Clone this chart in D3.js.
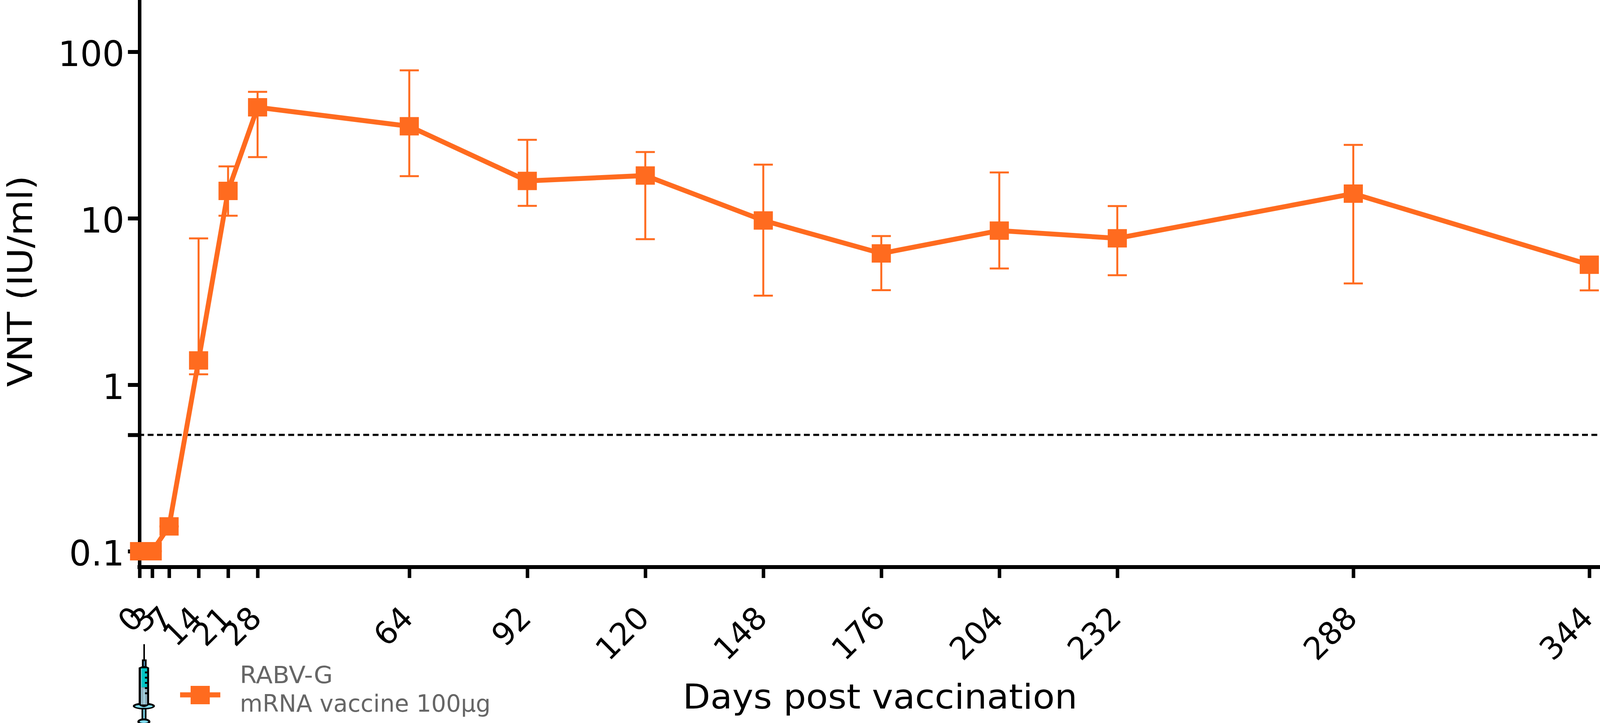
<!doctype html>
<html>
<head>
<meta charset="utf-8">
<script src="https://cdn.jsdelivr.net/npm/d3@7"></script>
<style>
  html, body { margin: 0; padding: 0; background: #fff; }
  svg { display: block; font-family: "DejaVu Sans", sans-serif; }
</style>
</head>
<body>
<svg id="chart" width="4140" height="1850"></svg>
<script>
  var days = [0, 3, 7, 14, 21, 28, 64, 92, 120, 148, 176, 204, 232, 288, 344];
  var vnt = [0.1, 0.1, 0.141, 1.40, 14.6, 46.4, 35.7, 16.76, 18.06, 9.70, 6.15, 8.43, 7.58, 14.06, 5.26];
  var vntUpper = [0.1, 0.1, 0.141, 7.57, 20.5, 57.5, 77.4, 29.6, 25.0, 21.0, 7.82, 18.84, 11.84, 27.6, 5.8];
  var vntLower = [0.1, 0.1, 0.141, 1.155, 10.36, 23.3, 17.9, 11.87, 7.49, 3.43, 3.70, 4.99, 4.55, 4.06, 3.69];

  var xTicks = [0, 3, 7, 14, 21, 28, 64, 92, 120, 148, 176, 204, 232, 288, 344];
  var yTicks = [0.1, 0.5, 1, 10, 100];
  var yTickLabels = { 0.1: '0.1', 0.5: '', 1: '1', 10: '10', 100: '100' };
  var threshold = 0.5;

  var orange = '#ff6b1f';
  var axisY = 1451;

  var svg = d3.select('#chart');

  var x = d3.scaleLinear().domain([0, 344]).range([357.3, 4068.6]);
  var y = d3.scaleLog().domain([0.1, 100]).range([1410.5, 132.5]);

  var points = days.map(function (d, i) {
    return { day: d, value: vnt[i], upper: vntUpper[i], lower: vntLower[i] };
  });

  // y axis
  var yAxis = svg.append('g')
    .attr('transform', 'translate(357.5,0)')
    .call(d3.axisLeft(y)
      .tickValues(yTicks)
      .tickFormat(function (d) { return yTickLabels[d]; })
      .tickSize(30)
      .tickPadding(9));
  yAxis.select('.domain').remove();
  yAxis.selectAll('line').attr('stroke', '#000').attr('stroke-width', 10);
  yAxis.selectAll('text')
    .attr('font-family', '"DejaVu Sans", sans-serif')
    .attr('font-size', 89)
    .attr('fill', '#000')
    .attr('dy', 36);
  yAxis.append('line')
    .attr('y1', 0).attr('y2', axisY + 5)
    .attr('stroke', '#000').attr('stroke-width', 9);

  // x axis
  var xAxis = svg.append('g')
    .attr('transform', 'translate(0,' + axisY + ')')
    .call(d3.axisBottom(x).tickValues(xTicks).tickFormat(d3.format('d')).tickSize(28));
  xAxis.select('.domain').remove();
  xAxis.selectAll('line').attr('stroke', '#000').attr('stroke-width', 9);
  xAxis.selectAll('text')
    .attr('font-family', '"DejaVu Sans", sans-serif')
    .attr('font-size', 80)
    .attr('fill', '#000')
    .attr('text-anchor', 'end')
    .attr('x', 0).attr('y', 0).attr('dy', 0)
    .attr('transform', 'translate(14,135) rotate(-45)');
  xAxis.append('line')
    .attr('x1', 352).attr('x2', 4140)
    .attr('stroke', '#000').attr('stroke-width', 10);

  // detection limit
  svg.append('line')
    .attr('x1', 354).attr('x2', 4133)
    .attr('y1', y(threshold)).attr('y2', y(threshold))
    .attr('stroke', '#000').attr('stroke-width', 5.5)
    .attr('stroke-dasharray', '15 9');

  // error bars
  var bars = svg.append('g').attr('stroke', orange).selectAll('g')
    .data(points).enter().append('g');
  bars.append('line')
    .attr('x1', function (d) { return x(d.day); })
    .attr('x2', function (d) { return x(d.day); })
    .attr('y1', function (d) { return y(d.upper); })
    .attr('y2', function (d) { return y(d.lower); })
    .attr('stroke-width', 5);
  ['upper', 'lower'].forEach(function (k) {
    bars.append('line')
      .attr('x1', function (d) { return x(d.day) - 24.5; })
      .attr('x2', function (d) { return x(d.day) + 24.5; })
      .attr('y1', function (d) { return y(d[k]); })
      .attr('y2', function (d) { return y(d[k]); })
      .attr('stroke-width', 5);
  });

  // mean line and markers
  var line = d3.line()
    .x(function (d) { return x(d.day); })
    .y(function (d) { return y(d.value); });
  svg.append('path')
    .datum(points)
    .attr('d', line)
    .attr('fill', 'none')
    .attr('stroke', orange)
    .attr('stroke-width', 12.5);
  svg.append('g').selectAll('rect')
    .data(points).enter().append('rect')
    .attr('x', function (d) { return x(d.day) - 24.5; })
    .attr('y', function (d) { return y(d.value) - 23.5; })
    .attr('width', 49)
    .attr('height', 47)
    .attr('fill', orange);

  // axis titles
  svg.append('text')
    .attr('transform', 'translate(82,990) rotate(-90)')
    .attr('font-size', 88)
    .attr('textLength', 541)
    .attr('lengthAdjust', 'spacingAndGlyphs')
    .text('VNT (IU/ml)');
  svg.append('text')
    .attr('x', 1748).attr('y', 1812.5)
    .attr('font-size', 88)
    .attr('textLength', 1010)
    .attr('lengthAdjust', 'spacingAndGlyphs')
    .text('Days post vaccination');

  // legend
  var legend = svg.append('g');
  legend.append('line')
    .attr('x1', 461).attr('x2', 564).attr('y1', 1778).attr('y2', 1778)
    .attr('stroke', orange).attr('stroke-width', 13);
  legend.append('rect')
    .attr('x', 488).attr('y', 1755).attr('width', 49).attr('height', 47)
    .attr('fill', orange);
  legend.append('text')
    .attr('x', 614).attr('y', 1748)
    .attr('font-size', 61).attr('fill', '#666')
    .attr('textLength', 238).attr('lengthAdjust', 'spacingAndGlyphs')
    .text('RABV-G');
  legend.append('text')
    .attr('x', 614).attr('y', 1821)
    .attr('font-size', 61).attr('fill', '#666')
    .attr('textLength', 642).attr('lengthAdjust', 'spacingAndGlyphs')
    .text('mRNA vaccine 100\u00b5g');

  // syringe pictogram, drawn in 3x units
  var syringe = svg.append('g').attr('transform', 'translate(300,1600) scale(0.3333)');
  function box(x0, y0, w, h, fill) {
    syringe.append('rect').attr('x', x0).attr('y', y0).attr('width', w).attr('height', h).attr('fill', fill);
  }
  function oval(cx, cy, rx, ry, fill) {
    syringe.append('ellipse').attr('cx', cx).attr('cy', cy).attr('rx', rx).attr('ry', ry).attr('fill', fill);
  }
  box(201, 145, 12, 120, '#000');
  box(190, 262, 36, 60, '#000');
  box(204, 275, 8, 38, '#5aa9d6');
  box(187, 640, 38, 85, '#000');
  box(200, 640, 12, 85, '#7fdcf2');
  oval(205, 740, 50, 25, '#000');
  oval(205, 740, 33, 10, '#7fdcf2');
  oval(205, 620, 85, 26, '#000');
  oval(205, 622, 68, 12, '#7fdcf2');
  syringe.append('path').attr('d', 'M165,325 L190,315 L225,315 L245,325 L245,610 Q205,645 165,610 Z').attr('fill', '#000');
  box(182, 330, 48, 146, '#00c4c4');
  box(182, 476, 48, 132, '#8fb0bf');
  box(183, 335, 4, 270, '#a8e0ee');
  box(203, 490, 8, 116, '#a8e0ee');
  [355, 395, 435, 475, 515].forEach(function (t) { box(213, t, 20, 14, '#000'); });
</script>
</body>
</html>
